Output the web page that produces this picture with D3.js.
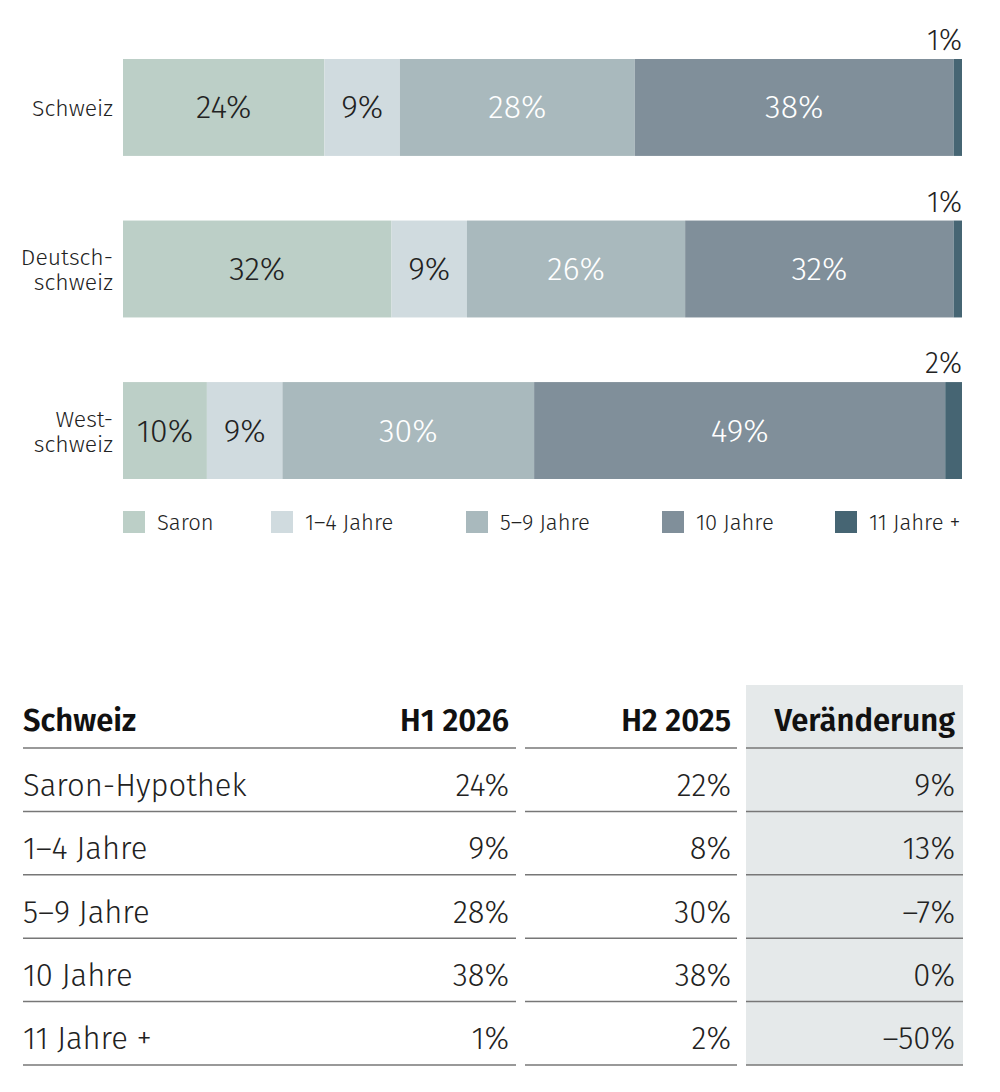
<!DOCTYPE html>
<html>
<head>
<meta charset="utf-8">
<script src="https://d3js.org/d3.v7.min.js"></script>
<style>
  body { margin: 0; background: #fff; }
  svg text { font-family: "Fira Sans", "Noto Sans", "Open Sans", sans-serif; }
</style>
</head>
<body>
<div id="chart"></div>
<script>
// data
const regions = ["Schweiz", "Deutschschweiz", "Westschweiz"];
const regionLabels = [["Schweiz"], ["Deutsch-", "schweiz"], ["West-", "schweiz"]];
const series = ["Saron", "1–4 Jahre", "5–9 Jahre", "10 Jahre", "11 Jahre +"];
const saron = [24, 32, 10];
const jahre1to4 = [9, 9, 9];
const jahre5to9 = [28, 26, 30];
const jahre10 = [38, 32, 49];
const jahre11 = [1, 1, 2];

const tableHeader = ["Schweiz", "H1 2026", "H2 2025", "Veränderung"];
const tableRows = ["Saron-Hypothek", "1–4 Jahre", "5–9 Jahre", "10 Jahre", "11 Jahre +"];
const h1_2026 = ["24%", "9%", "28%", "38%", "1%"];
const h2_2025 = ["22%", "8%", "30%", "38%", "2%"];
const change = ["9%", "13%", "–7%", "0%", "–50%"];

const colors = ["#bccfc7", "#d0dbdf", "#a9b9bd", "#808f9a", "#466573"];
const textColors = ["#222", "#222", "#fff", "#fff", "#222"];

const W = 1000, H = 1092;
const svg = d3.select("#chart").append("svg")
  .attr("width", W).attr("height", H);

// rows of stacked data
const seriesValues = [saron, jahre1to4, jahre5to9, jahre10, jahre11];
const table = regions.map((r, i) => {
  const o = { region: r };
  series.forEach((s, j) => o[s] = seriesValues[j][i]);
  return o;
});
const stacked = d3.stack().keys(series)(table);

const x = d3.scaleLinear().domain([0, 100]).range([123, 962]);
const y = d3.scaleBand().domain(regions).range([59, 479]).paddingInner(0.4);

const layer = svg.append("g").selectAll("g")
  .data(stacked).enter().append("g")
  .attr("fill", (d, i) => colors[i]);

layer.selectAll("rect")
  .data(d => d.map(v => ({ v, key: d.key, idx: d.index, region: v.data.region })))
  .enter().append("rect")
  .attr("x", d => x(d.v[0]))
  .attr("y", d => y(d.region))
  .attr("width", d => x(d.v[1]) - x(d.v[0]))
  .attr("height", y.bandwidth());

// value labels (last segment gets its label above the bar)
layer.selectAll("text")
  .data(d => d.map(v => ({ v, idx: d.index, region: v.data.region })))
  .enter().append("text")
  .attr("x", d => d.idx === 4 ? x(d.v[1]) : (x(d.v[0]) + x(d.v[1])) / 2)
  .attr("y", d => d.idx === 4 ? y(d.region) - 9 : y(d.region) + y.bandwidth() / 2 + 11)
  .attr("text-anchor", d => d.idx === 4 ? "end" : "middle")
  .attr("font-size", d => d.idx === 4 ? 29 : 32)
  .attr("font-weight", 300)
  .attr("fill", d => textColors[d.idx])
  .text(d => (d.v[1] - d.v[0]) + "%");

// region labels
svg.append("g").selectAll("text")
  .data(regions).enter().append("text")
  .attr("x", 113)
  .attr("y", d => y(d) + y.bandwidth() / 2)
  .attr("text-anchor", "end")
  .attr("font-size", 23)
  .attr("font-weight", 300)
  .attr("fill", "#222")
  .each(function (d, i) {
    const lines = regionLabels[i];
    const t = d3.select(this);
    lines.forEach((l, k) => {
      t.append("tspan")
        .attr("x", 113)
        .attr("dy", k === 0 ? (lines.length === 1 ? 9 : -4) : 25)
        .text(l);
    });
  });

// legend
const legendX = [123, 271, 466, 662, 835];
const legend = svg.append("g").selectAll("g")
  .data(series).enter().append("g")
  .attr("transform", (d, i) => `translate(${legendX[i]},511)`);
legend.append("rect").attr("width", 22).attr("height", 22)
  .attr("fill", (d, i) => colors[i]);
legend.append("text").attr("x", 34).attr("y", 19)
  .attr("font-size", 22).attr("font-weight", 300).attr("fill", "#222")
  .text(d => d);

// table
const cols = [
  { anchor: "start", tx: 23 },
  { anchor: "end", tx: 509 },
  { anchor: "end", tx: 731 },
  { anchor: "end", tx: 955 }
];
const segs = [[23, 516], [525, 737], [746, 963]];
const rowY = d3.scaleBand().domain(d3.range(tableRows.length)).range([748, 1065]);
const lineYs = [748].concat(d3.range(tableRows.length).map(i => rowY(i) + rowY.bandwidth()));

svg.append("rect")
  .attr("x", 746).attr("y", 685).attr("width", 217).attr("height", 380)
  .attr("fill", "#e5e9ea");

const tg = svg.append("g");
tg.selectAll("text.head")
  .data(tableHeader).enter().append("text")
  .attr("class", "head")
  .attr("x", (d, i) => cols[i].tx)
  .attr("y", 731)
  .attr("text-anchor", (d, i) => cols[i].anchor)
  .attr("font-size", 31).attr("font-weight", 600)
  .attr("fill", "#111")
  .text(d => d);

const cellCols = [tableRows, h1_2026, h2_2025, change];
cellCols.forEach((col, ci) => {
  tg.selectAll("text.c" + ci)
    .data(col).enter().append("text")
    .attr("class", "c" + ci)
    .attr("x", cols[ci].tx)
    .attr("y", (d, i) => rowY(i) + rowY.bandwidth() / 2 + 16)
    .attr("text-anchor", cols[ci].anchor)
    .attr("font-size", 31).attr("font-weight", 300)
    .attr("fill", "#222")
    .text(d => d);
});

lineYs.forEach(ly => {
  segs.forEach(s => {
    tg.append("line")
      .attr("x1", s[0]).attr("x2", s[1])
      .attr("y1", ly).attr("y2", ly)
      .attr("stroke", "#777").attr("stroke-width", 1.5);
  });
});
</script>
</body>
</html>
